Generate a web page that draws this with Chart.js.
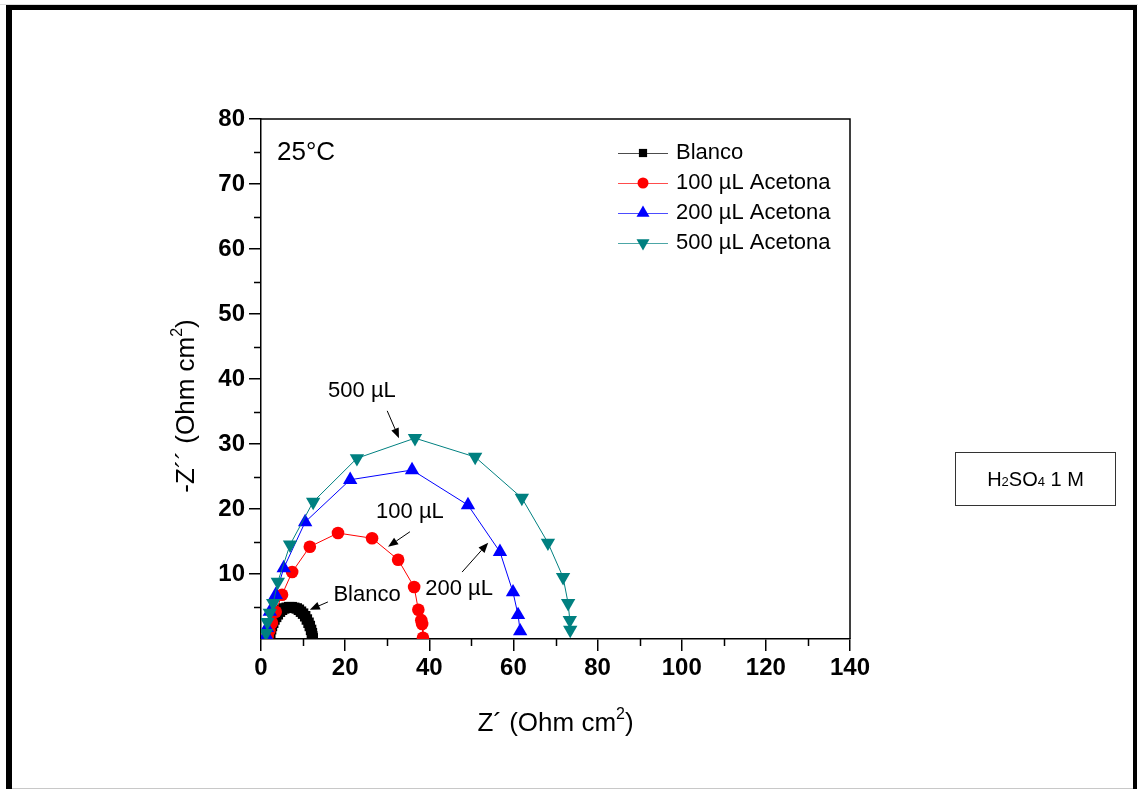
<!DOCTYPE html>
<html>
<head>
<meta charset="utf-8">
<script src="https://cdn.jsdelivr.net/npm/chart.js@4.4.1/dist/chart.umd.min.js"></script>
<style>
    html, body { margin: 0; padding: 0; background: #fff; }
    body { width: 1138px; height: 789px; position: relative; overflow: hidden; font-family: 'Liberation Sans', Arial, sans-serif; }
    #chartWrap { position: absolute; left: 0; top: 0; width: 1138px; height: 789px; }
    #frame { position: absolute; left: 6px; top: 5px; width: 1131px; height: 800px; box-sizing: border-box;
        border-left: 6px solid #000; border-top: 5px solid #000; border-right: 4px solid #000; }
    #topline { position: absolute; left: 0; top: 4px; width: 1138px; height: 1px; background: #ddd; }
    #bottomline { position: absolute; left: 12px; top: 788px; width: 1121px; height: 1px; background: #c8c8c8; }
    #acid { position: absolute; left: 955px; top: 452px; width: 161px; height: 54px; box-sizing: border-box;
        border: 1px solid #333; font-size: 20px; text-align: center; line-height: 52px; color: #000; }
    #acid sub { font-size: 13px; vertical-align: baseline; }
</style>
</head>
<body>
<div id="chartWrap"><canvas id="nyquist" width="1138" height="789"></canvas></div>
<div id="topline"></div>
<div id="frame"></div>
<div id="bottomline"></div>
<div id="acid">H<sub>2</sub>SO<sub>4</sub> 1 M</div>
<script>
const FONT = '"Liberation Sans", Arial, sans-serif';

// series labels
const seriesNames = ['Blanco', '100 µL Acetona', '200 µL Acetona', '500 µL Acetona'];

// Blanco
const blancoX = [2.1, 2.2, 2.4, 2.6, 2.9, 3.2, 3.6, 4.0, 4.5, 5.0, 5.5, 6.1, 6.7, 7.3, 7.9, 8.5, 9.0, 9.5, 10.0, 10.5, 10.9, 11.3, 11.6, 11.9, 12.1, 12.2, 12.3];
const blancoY = [0.3, 0.9, 1.5, 2.0, 2.5, 3.0, 3.4, 3.8, 4.2, 4.5, 4.7, 4.8, 4.9, 4.9, 4.8, 4.7, 4.5, 4.2, 3.9, 3.5, 3.0, 2.5, 2.0, 1.4, 0.9, 0.4, 0.1];

// 100 µL
const acet100X = [1.6, 2.0, 2.6, 3.5, 5.0, 7.4, 11.6, 18.3, 26.4, 32.6, 36.4, 37.4, 38.1, 38.3, 38.5];
const acet100Y = [0.5, 1.3, 2.5, 4.2, 6.8, 10.3, 14.2, 16.3, 15.5, 12.2, 8.0, 4.5, 2.9, 2.3, 0.2];

// 200 µL
const acet200X = [1.2, 1.4, 2.1, 3.5, 5.4, 10.5, 21.2, 35.9, 49.2, 56.8, 59.9, 61.1, 61.6];
const acet200Y = [0.6, 1.7, 4.2, 6.8, 10.9, 18.0, 24.5, 26.0, 20.6, 13.4, 7.2, 3.7, 1.2];

// 500 µL
const acet500X = [1.2, 1.5, 2.1, 2.9, 4.0, 6.9, 12.4, 22.8, 36.6, 50.9, 62.0, 68.2, 71.8, 73.0, 73.4, 73.5];
const acet500Y = [0.9, 2.6, 4.0, 5.5, 8.8, 14.5, 21.1, 27.8, 30.9, 28.0, 21.7, 14.8, 9.5, 5.5, 2.9, 1.4];

const xTicks = [0, 20, 40, 60, 80, 100, 120, 140];
const yTicks = [10, 20, 30, 40, 50, 60, 70, 80];

// text notes on the plot: [text, x, y] in data units, arrows [x1, y1, x2, y2]
const notes = [
    ['500 µL', 24.0, 38.2, [30.0, 35.1, 32.8, 30.9]],
    ['100 µL', 35.4, 19.5, [35.4, 16.5, 30.2, 14.2]],
    ['200 µL', 47.1, 7.7, [47.8, 10.3, 54.0, 14.8]],
    ['Blanco', 25.2, 6.8, [15.9, 5.7, 11.6, 4.5]]
];

function pts(xs, ys) {
    return xs.map((x, i) => ({ x, y: ys[i] }));
}

const styles = [
    { color: '#000000', pointStyle: 'rect', radius: 7.4, rotation: 0, order: 3 },
    { color: '#ff0000', pointStyle: 'circle', radius: 6.3, rotation: 0, order: 2 },
    { color: '#0000ff', pointStyle: 'triangle', radius: 8.3, rotation: 0, order: 1 },
    { color: '#008080', pointStyle: 'triangle', radius: 8.3, rotation: 180, order: 0 }
];
const series = [pts(blancoX, blancoY), pts(acet100X, acet100Y), pts(acet200X, acet200Y), pts(acet500X, acet500Y)];

function drawMarker(ctx, st, x, y) {
    ctx.save();
    ctx.fillStyle = st.color;
    ctx.beginPath();
    if (st.pointStyle === 'rect') {
        const s = st.radius * Math.SQRT1_2;
        ctx.rect(x - s, y - s, 2 * s, 2 * s);
    } else if (st.pointStyle === 'circle') {
        ctx.arc(x, y, st.radius, 0, Math.PI * 2);
    } else {
        let rad = st.rotation * Math.PI / 180;
        for (let k = 0; k < 3; k++) {
            const px = x + Math.sin(rad) * st.radius, py = y - Math.cos(rad) * st.radius;
            if (k === 0) ctx.moveTo(px, py); else ctx.lineTo(px, py);
            rad += 2 * Math.PI / 3;
        }
        ctx.closePath();
    }
    ctx.fill();
    ctx.restore();
}

function supText(ctx, parts, x, y, size) {
    const big = size + 'px ' + FONT, small = Math.round(size * 0.62) + 'px ' + FONT;
    let total = 0;
    parts.forEach(p => { ctx.font = p[1] ? small : big; total += ctx.measureText(p[0]).width; });
    let cx = x - total / 2;
    ctx.textAlign = 'left';
    ctx.textBaseline = 'alphabetic';
    parts.forEach(p => {
        ctx.font = p[1] ? small : big;
        ctx.fillText(p[0], cx, p[1] ? y - size * 0.45 : y);
        cx += ctx.measureText(p[0]).width;
    });
}

function arrow(ctx, x1, y1, x2, y2) {
    const a = Math.atan2(y2 - y1, x2 - x1), len = 10, w = 4;
    ctx.save();
    ctx.strokeStyle = '#000';
    ctx.fillStyle = '#000';
    ctx.lineWidth = 1;
    ctx.beginPath();
    ctx.moveTo(x1, y1);
    ctx.lineTo(x2 - Math.cos(a) * len, y2 - Math.sin(a) * len);
    ctx.stroke();
    ctx.beginPath();
    ctx.moveTo(x2, y2);
    ctx.lineTo(x2 - Math.cos(a) * len - Math.sin(a) * w, y2 - Math.sin(a) * len + Math.cos(a) * w);
    ctx.lineTo(x2 - Math.cos(a) * len + Math.sin(a) * w, y2 - Math.sin(a) * len - Math.cos(a) * w);
    ctx.closePath();
    ctx.fill();
    ctx.restore();
}

const decor = {
    id: 'decor',
    afterDraw(chart) {
        const ctx = chart.ctx, a = chart.chartArea;
        const xs = chart.scales.x, ys = chart.scales.y;
        ctx.save();
        // box top / right
        ctx.strokeStyle = '#000';
        ctx.lineWidth = 1.5;
        ctx.beginPath();
        ctx.moveTo(a.left, a.top); ctx.lineTo(a.right, a.top); ctx.lineTo(a.right, a.bottom);
        ctx.stroke();
        // minor ticks
        ctx.beginPath();
        for (let v = 5; v < 80; v += 10) {
            const py = Math.round(ys.getPixelForValue(v)) + 0.5;
            ctx.moveTo(a.left - 7, py); ctx.lineTo(a.left, py);
        }
        for (let v = 10; v < 140; v += 20) {
            const px = Math.round(xs.getPixelForValue(v)) + 0.5;
            ctx.moveTo(px, a.bottom); ctx.lineTo(px, a.bottom + 7);
        }
        ctx.stroke();

        ctx.fillStyle = '#000';
        // axis titles
        supText(ctx, [['Z´ (Ohm cm', false], ['2', true], [')', false]], (a.left + a.right) / 2, 731, 26);
        ctx.save();
        ctx.translate(194, 406);
        ctx.rotate(-Math.PI / 2);
        supText(ctx, [['-Z´´ (Ohm cm', false], ['2', true], [')', false]], 0, 0, 26);
        ctx.restore();

        // temperature
        ctx.font = '26px ' + FONT;
        ctx.textAlign = 'left';
        ctx.textBaseline = 'middle';
        ctx.fillText('25°C', a.left + 16, a.top + 34);

        // notes + arrows
        ctx.font = '22px ' + FONT;
        ctx.textAlign = 'center';
        notes.forEach(n => {
            ctx.fillText(n[0], xs.getPixelForValue(n[1]), ys.getPixelForValue(n[2]));
            const r = n[3];
            arrow(ctx, xs.getPixelForValue(r[0]), ys.getPixelForValue(r[1]),
                xs.getPixelForValue(r[2]), ys.getPixelForValue(r[3]));
        });

        // legend
        ctx.textAlign = 'left';
        seriesNames.forEach((name, i) => {
            const st = styles[i];
            const ly = a.top + 34 + i * 30;
            const lx = a.left + 357;
            ctx.strokeStyle = st.color;
            ctx.globalAlpha = 0.7;
            ctx.lineWidth = 1;
            ctx.beginPath();
            ctx.moveTo(lx, ly + 0.5); ctx.lineTo(lx + 50, ly + 0.5);
            ctx.stroke();
            ctx.globalAlpha = 1;
            drawMarker(ctx, i === 0 ? { ...st, radius: 5.8 } : { ...st, radius: st.radius - 0.8 }, lx + 25, ly);
            ctx.fillStyle = '#000';
            ctx.fillText(name, lx + 58, ly);
        });
        ctx.restore();
    }
};

new Chart(document.getElementById('nyquist'), {
    type: 'scatter',
    data: {
        datasets: series.map((d, i) => ({
            label: seriesNames[i],
            data: d,
            showLine: true,
            borderColor: styles[i].color,
            borderWidth: 1,
            backgroundColor: styles[i].color,
            pointBackgroundColor: styles[i].color,
            pointBorderWidth: 0,
            pointStyle: styles[i].pointStyle,
            pointRadius: styles[i].radius,
            pointRotation: styles[i].rotation,
            order: styles[i].order,
            clip: 0
        }))
    },
    options: {
        responsive: false,
        animation: false,
        events: [],
        layout: { padding: { left: 175, top: 119, right: 288, bottom: 40 } },
        plugins: { legend: { display: false }, tooltip: { enabled: false } },
        scales: {
            x: {
                type: 'linear', min: 0, max: 140,
                afterBuildTicks: s => { s.ticks = xTicks.map(v => ({ value: v })); },
                afterFit: s => { s.height = 110; },
                border: { display: true, color: '#000', width: 1.5 },
                grid: { drawOnChartArea: false, drawTicks: true, tickLength: 12, color: '#000', lineWidth: 1.5 },
                ticks: { color: '#000', padding: 3, maxRotation: 0, font: { family: FONT, size: 24, weight: 'bold' } }
            },
            y: {
                type: 'linear', min: 0, max: 80,
                afterBuildTicks: s => { s.ticks = yTicks.map(v => ({ value: v })); },
                afterFit: s => { s.width = 86; },
                border: { display: true, color: '#000', width: 1.5 },
                grid: { drawOnChartArea: false, drawTicks: true, tickLength: 12, color: '#000', lineWidth: 1.5 },
                ticks: { color: '#000', padding: 4, font: { family: FONT, size: 24, weight: 'bold' } }
            }
        }
    },
    plugins: [decor]
});
</script>
</body>
</html>
